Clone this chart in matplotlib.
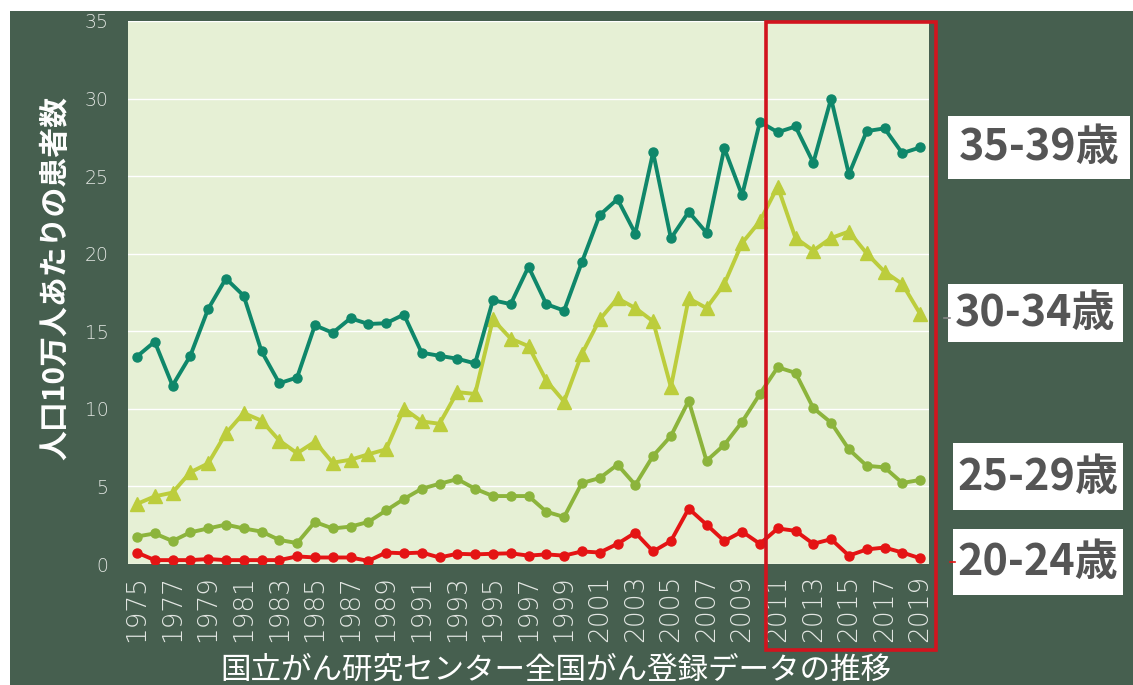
import matplotlib
matplotlib.use("Agg")
import matplotlib.pyplot as plt
from matplotlib.patches import Rectangle
from matplotlib.lines import Line2D

plt.rcParams['font.family'] = ['Noto Sans CJK JP', 'DejaVu Sans']

years = list(range(1975, 2020))

age_35_39 = [13.37, 14.33, 11.5, 13.42, 16.43, 18.4, 17.29, 13.72, 11.65, 12.02,
             15.39, 14.9, 15.84, 15.47, 15.52, 16.08, 13.62, 13.42, 13.23, 12.93,
             17.0, 16.75, 19.16, 16.75, 16.33, 19.46, 22.49, 23.52, 21.3, 26.53,
             20.99, 22.7, 21.35, 26.8, 23.77, 28.5, 27.83, 28.2, 25.86, 30.0,
             25.12, 27.9, 28.08, 26.48, 26.85]
age_30_34 = [3.87, 4.36, 4.6, 5.91, 6.48, 8.42, 9.73, 9.24, 7.96, 7.14,
             7.88, 6.53, 6.72, 7.07, 7.39, 10.02, 9.19, 9.04, 11.08, 10.96,
             15.76, 14.53, 14.04, 11.82, 10.47, 13.55, 15.76, 17.12, 16.5, 15.64,
             11.4, 17.12, 16.5, 18.05, 20.69, 22.09, 24.33, 21.01, 20.2, 21.01,
             21.43, 20.02, 18.84, 18.05, 16.13]
age_25_29 = [1.77, 1.97, 1.48, 2.04, 2.29, 2.54, 2.29, 2.09, 1.55, 1.35,
             2.71, 2.29, 2.41, 2.71, 3.45, 4.19, 4.85, 5.17, 5.47, 4.85,
             4.38, 4.38, 4.38, 3.37, 3.03, 5.22, 5.54, 6.4, 5.1, 6.97,
             8.25, 10.52, 6.65, 7.68, 9.16, 10.96, 12.68, 12.32, 10.05, 9.11,
             7.39, 6.33, 6.23, 5.22, 5.42]
age_20_24 = [0.74, 0.25, 0.25, 0.25, 0.32, 0.25, 0.25, 0.25, 0.25, 0.49,
             0.42, 0.42, 0.42, 0.2, 0.74, 0.69, 0.74, 0.42, 0.66, 0.62,
             0.66, 0.69, 0.54, 0.62, 0.54, 0.81, 0.74, 1.3, 2.02, 0.81,
             1.48, 3.57, 2.54, 1.48, 2.09, 1.3, 2.29, 2.14, 1.3, 1.6,
             0.54, 0.94, 1.06, 0.74, 0.37]

series_labels = ['35-39歳', '30-34歳', '25-29歳', '20-24歳']
y_ticks = [0, 5, 10, 15, 20, 25, 30, 35]
x_tick_years = years[::2]
y_title = '人口10万人あたりの患者数'
x_title = '国立がん研究センター全国がん登録データの推移'

BG = '#465f4f'
PLOT_BG = '#e6f0d5'
W, H = 1133, 685

fig = plt.figure(figsize=(W / 100, H / 100), dpi=100, facecolor=BG)
# white margins at top and left
fig.patches.append(Rectangle((0, 1 - 11 / H), 1, 11 / H, transform=fig.transFigure,
                             facecolor='white', edgecolor='none', zorder=-5))
fig.patches.append(Rectangle((0, 0), 10 / W, 1, transform=fig.transFigure,
                             facecolor='white', edgecolor='none', zorder=-5))

ax = fig.add_axes([128 / W, 1 - 564 / H, (929 - 128) / W, (564 - 21) / H])
ax.set_facecolor(PLOT_BG)
for s in ax.spines.values():
    s.set_visible(False)

ax.plot(years, age_35_39, color='#0f876a', lw=2.8, marker='o', ms=6.5, zorder=5)
ax.plot(years, age_30_34, color='#bccd3c', lw=2.8, marker='^', ms=9.5, zorder=4)
ax.plot(years, age_25_29, color='#8cb43c', lw=2.8, marker='o', ms=6.5, zorder=3)
ax.plot(years, age_20_24, color='#e41414', lw=2.8, marker='o', ms=6.5, zorder=3)

ax.set_xlim(1974.5, 2019.5)
ax.set_ylim(0, 35)
ax.set_yticks(y_ticks)
ax.set_xticks(x_tick_years)
ax.set_xticklabels([str(y) for y in x_tick_years], rotation=90, fontsize=19,
                   color='#e2e6e2', family='DejaVu Sans', fontweight='light')
ax.set_yticklabels([str(v) for v in y_ticks], fontsize=13.5, color='#e2e6e2',
                   family='DejaVu Sans', fontweight='light')
ax.tick_params(axis='both', length=0)
ax.tick_params(axis='x', pad=8)
ax.tick_params(axis='y', pad=14)
ax.grid(axis='y', color='white', lw=1.0)
ax.set_axisbelow(True)

fig.text(55 / W, 1 - 278 / H, y_title, rotation=90, color='white', fontsize=21.5,
         fontweight='bold', ha='center', va='center')
fig.text(556 / W, 1 - 670 / H, x_title, color='white', fontsize=22,
         ha='center', va='center')

# red highlight rectangle
fig.patches.append(Rectangle((766 / W, 1 - 650 / H), (936 - 766) / W, (650 - 22) / H,
                             transform=fig.transFigure, facecolor='none',
                             edgecolor='#d2141e', lw=2.6, zorder=10))

# label boxes
boxes = [(948, 1130, 116, 179), (948, 1123, 284, 342), (953, 1123, 443, 510), (953, 1123, 529, 595)]
for lab, (x0, x1, y0, y1) in zip(series_labels, boxes):
    fig.patches.append(Rectangle((x0 / W, 1 - y1 / H), (x1 - x0) / W, (y1 - y0) / H,
                                 transform=fig.transFigure, facecolor='white',
                                 edgecolor='none', zorder=11))
    fig.text((x0 + x1) / 2 / W, 1 - (y0 + y1) / 2 / H, lab, color='#555555',
             fontsize=31, fontweight='bold', ha='center', va='center', zorder=12)

# small leader ticks
fig.lines.append(Line2D([944 / W, 950 / W], [1 - 318 / H, 1 - 318 / H], transform=fig.transFigure,
                        color='#888888', lw=1.2, zorder=12))
fig.lines.append(Line2D([950 / W, 955 / W], [1 - 562 / H, 1 - 562 / H], transform=fig.transFigure,
                        color='#e41414', lw=1.2, zorder=12))

fig.savefig('out.png', dpi=100, facecolor=BG)
